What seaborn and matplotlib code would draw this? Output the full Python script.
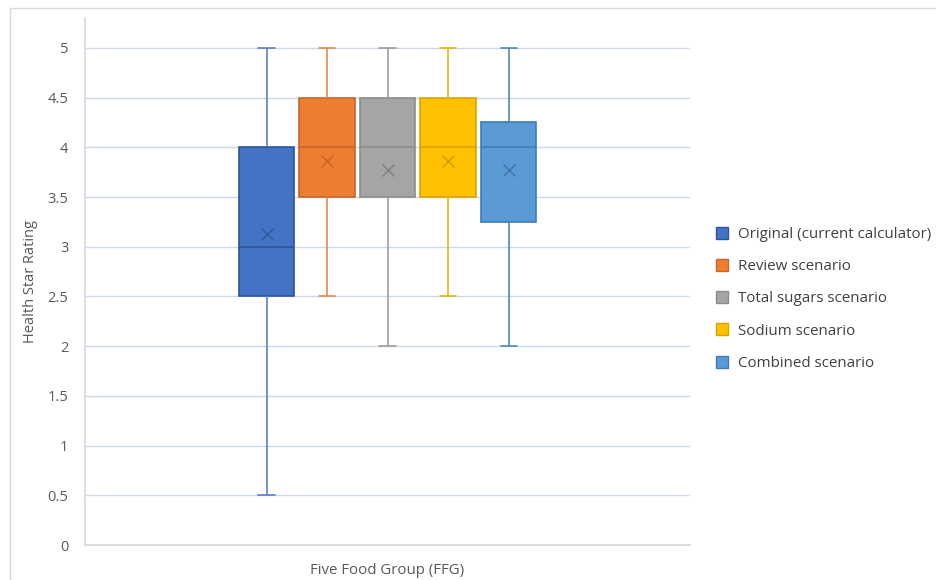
import pandas as pd
import seaborn as sns
import matplotlib.pyplot as plt
from matplotlib.patches import Patch, Rectangle

# Five-number summaries: min, Q1, median, Q3, max
group = "Five Food Group (FFG)"
scenarios = ["Original (current calculator)", "Review scenario",
             "Total sugars scenario", "Sodium scenario", "Combined scenario"]
original = [0.5, 2.5, 3.0, 4.0, 5.0]
review = [2.5, 3.5, 4.0, 4.5, 5.0]
total_sugars = [2.0, 3.5, 4.0, 4.5, 5.0]
sodium = [2.5, 3.5, 4.0, 4.5, 5.0]
combined = [2.0, 3.25, 4.0, 4.25, 5.0]
means = [3.13, 3.86, 3.77, 3.86, 3.77]

fill_colors = ["#4472C4", "#ED7D31", "#A5A5A5", "#FFC000", "#5B9BD5"]
edge_colors = ["#2F5597", "#C9642A", "#8C8C8C", "#D9A400", "#3F7CB8"]
whisker_colors = ["#5B7FC0", "#E48A4E", "#9E9E9E", "#E8B418", "#4F86C0"]
mean_colors = ["#2B4F8F", "#B55A22", "#6E6E6E", "#B58C00", "#335F94"]

rows = []
for name, vals in zip(scenarios, [original, review, total_sugars, sodium, combined]):
    for v in vals:
        rows.append({"group": group, "scenario": name, "value": v})
df = pd.DataFrame(rows)
df_mean = pd.DataFrame({"group": group, "scenario": scenarios, "value": means})

sns.set_theme(style="white")
plt.rcParams["font.family"] = ["Open Sans", "DejaVu Sans"]

fig = plt.figure(figsize=(9.36, 5.8), dpi=100)
ax = fig.add_axes([0.0908, 0.0603, 0.6465, 0.9086])

sns.boxplot(data=df, x="group", y="value", hue="scenario", hue_order=scenarios,
            palette=fill_colors, saturation=1, width=0.5, gap=0.08,
            whis=(0, 100), showfliers=False, linewidth=1.2, legend=False, ax=ax)

for cont, ec, wc in zip(ax.containers, edge_colors, whisker_colors):
    for b in cont.boxes:
        b.set_edgecolor(ec)
        b.set_linewidth(1.2)
    for ln in cont.medians:
        ln.set_color(ec)
        ln.set_linewidth(1.2)
    for ln in list(cont.whiskers) + list(cont.caps):
        ln.set_color(wc)
        ln.set_linewidth(1.2)
    # narrower caps, like the Excel chart
    for ln in cont.caps:
        xs = ln.get_xdata()
        mid = (xs[0] + xs[-1]) / 2
        half = (xs[-1] - xs[0]) / 2 * 0.58
        ln.set_xdata([mid - half, mid + half])

sns.pointplot(data=df_mean, x="group", y="value", hue="scenario", hue_order=scenarios,
              palette=mean_colors, dodge=0.4, linestyle="none", marker="x",
              markersize=8, markeredgewidth=1.0, errorbar=None, legend=False, ax=ax)
for coll in ax.collections:
    coll.set_alpha(0.7)
for ln in ax.lines[-5:]:
    ln.set_alpha(0.7)

ax.set_xlim(-0.5, 0.5)
ax.set_ylim(0, 5.3)
ax.set_yticks([0, 0.5, 1, 1.5, 2, 2.5, 3, 3.5, 4, 4.5, 5])
ax.set_yticklabels(["0", "0.5", "1", "1.5", "2", "2.5", "3", "3.5", "4", "4.5", "5"])
ax.yaxis.grid(True, color="#CDD8EC", linewidth=1.0)
ax.set_axisbelow(True)
ax.tick_params(axis="y", length=0, pad=12, labelsize=10.5, labelcolor="#595959")
ax.tick_params(axis="x", length=0, pad=13, labelsize=10.8, labelcolor="#595959")
ax.set_xlabel("")
ax.set_ylabel("Health Star Rating", fontsize=10.5, color="#595959")
ax.yaxis.set_label_coords(-0.078, 0.5)
for s in ["top", "right"]:
    ax.spines[s].set_visible(False)
ax.spines["left"].set_color("#D9D9D9")
ax.spines["bottom"].set_color("#D9D9D9")

handles = [Patch(facecolor=fc, edgecolor=ec, linewidth=1.0)
           for fc, ec in zip(fill_colors, edge_colors)]
leg = fig.legend(handles, scenarios, loc="center left", bbox_to_anchor=(0.750, 0.485),
                 frameon=False, fontsize=10.9, handlelength=0.85, handleheight=0.85,
                 handletextpad=0.6, labelspacing=1.12)
for t in leg.get_texts():
    t.set_color("#404040")

fig.patches.append(Rectangle((0.0107, -0.05), 1.1, 1.036, transform=fig.transFigure,
                             fill=False, edgecolor="#D9D9D9", linewidth=1.0))

fig.savefig("out.png", dpi=100)
